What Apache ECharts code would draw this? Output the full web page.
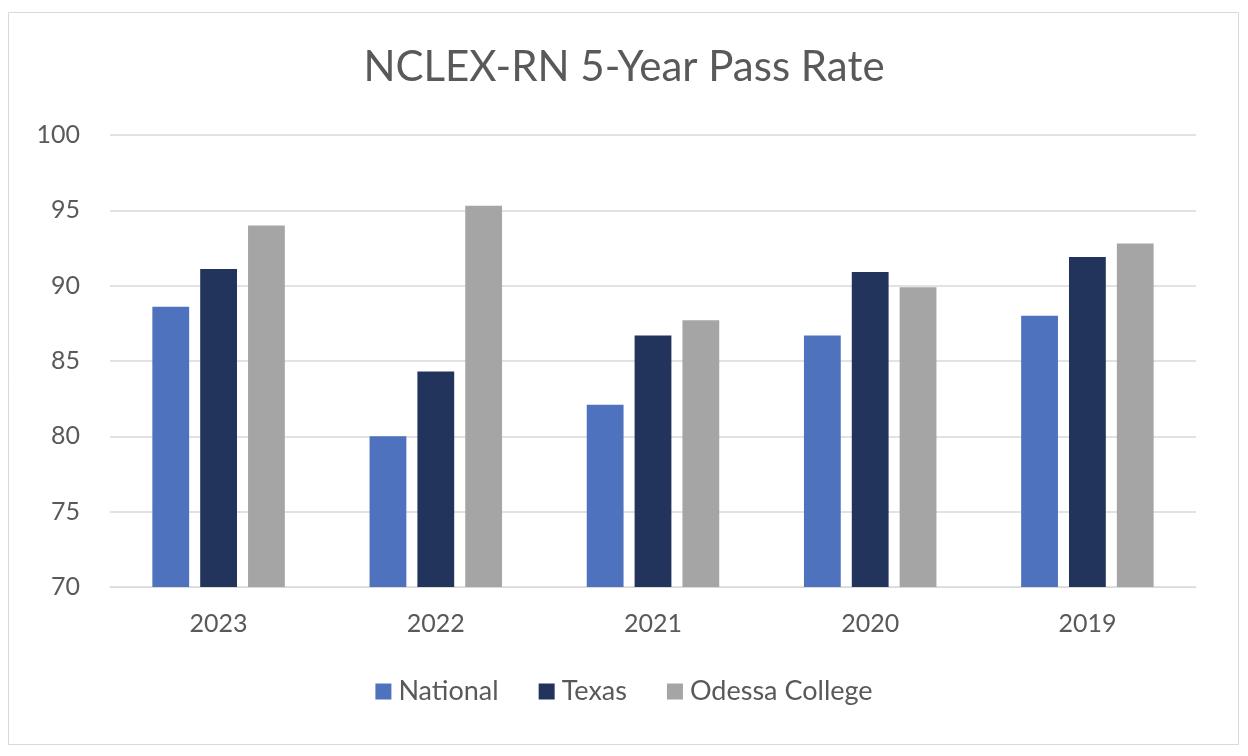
<!DOCTYPE html>
<html>
<head>
<meta charset="utf-8">
<script src="https://cdn.jsdelivr.net/npm/echarts@6/dist/echarts.min.js"></script>
<style>
html,body{margin:0;padding:0;background:#fff;}
#c{width:1248px;height:756px;}
</style>
</head>
<body>
<div id="c"></div>
<script>
const categories = ['2023', '2022', '2021', '2020', '2019'];
const national = [88.6, 80.0, 82.1, 86.7, 88.0];
const texas = [91.1, 84.3, 86.7, 90.9, 91.9];
const odessa = [94.0, 95.3, 87.7, 89.9, 92.8];
const yTicks = [70, 75, 80, 85, 90, 95, 100];

const font = 'Lato, "Open Sans", sans-serif';
const chart = echarts.init(document.getElementById('c'), null, {renderer: 'canvas'});
chart.setOption({
  animation: false,
  backgroundColor: '#fff',
  graphic: [{
    type: 'rect', left: 6, top: 10,
    shape: {width: 1230, height: 732},
    style: {fill: 'none', stroke: '#d9d9d9', lineWidth: 1}, silent: true
  }],
  title: {
    text: 'NCLEX-RN 5-Year Pass Rate',
    left: 'center', top: 41,
    textStyle: {fontFamily: font, fontSize: 42, fontWeight: 'normal', color: '#595959'}
  },
  legend: {
    data: ['National', 'Texas', 'Odessa College'],
    top: 673, left: 'center',
    itemWidth: 16, itemHeight: 16, itemGap: 40,
    icon: 'rect',
    textStyle: {fontFamily: font, fontSize: 27, color: '#595959', padding: [0, 0, 0, 2]}
  },
  grid: {left: 110, right: 52, top: 135, bottom: 169, containLabel: false},
  xAxis: {
    type: 'category', data: categories,
    axisLine: {show: true, lineStyle: {color: '#d9d9d9'}},
    axisTick: {show: false},
    axisLabel: {fontFamily: font, fontSize: 25, color: '#595959', margin: 24}
  },
  yAxis: {
    type: 'value', min: 70, max: 100, interval: 5,
    axisLine: {show: false}, axisTick: {show: false},
    splitLine: {lineStyle: {color: '#d9d9d9', width: 1.5}},
    axisLabel: {fontFamily: font, fontSize: 25, color: '#595959', margin: 30,
      formatter: v => yTicks.includes(v) ? String(v) : ''}
  },
  series: [
    {name: 'National', type: 'bar', data: national, barGap: '30%', barCategoryGap: '39%',
     itemStyle: {color: '#4e72be'}},
    {name: 'Texas', type: 'bar', data: texas, barGap: '30%', barCategoryGap: '39%',
     itemStyle: {color: '#22335c'}},
    {name: 'Odessa College', type: 'bar', data: odessa, barGap: '30%', barCategoryGap: '39%',
     itemStyle: {color: '#a5a5a5'}}
  ]
});
</script>
</body>
</html>
